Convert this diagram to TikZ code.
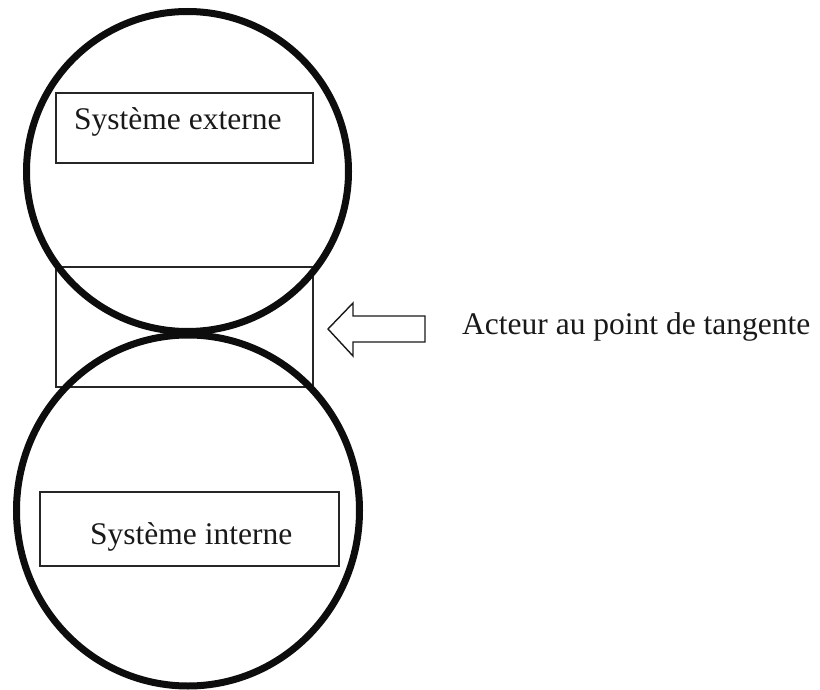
\documentclass[tikz,border=0pt]{standalone}
\usepackage{fontspec}
\setmainfont{Liberation Serif}
\usetikzlibrary{shapes.geometric}
\begin{document}
\begin{tikzpicture}[x=1pt,y=-1pt,
  system/.style={draw=black!95, line width=7pt, ellipse, inner sep=0pt},
  framebox/.style={draw=black!85, line width=1.4pt, rectangle, inner sep=0pt},
  label/.style={font=\fontsize{31.5}{36}\selectfont, inner sep=0pt, anchor=base west, text=black!90},
  hollowarrow/.style={draw=black!90, line width=1.4pt, line join=miter, fill=white}]
  \useasboundingbox (0,0) rectangle (820,690);

  % actor frame at the point of tangency
  \node[framebox, minimum width=257pt, minimum height=120pt] (acteur) at (184.5,327) {};

  % inner boxes with their labels
  \node[framebox, minimum width=257pt, minimum height=70pt] (extbox) at (184.5,128) {};
  \node[label] (extlabel) at (74,130) {Système externe};
  \node[framebox, minimum width=299pt, minimum height=74pt] (intbox) at (189.5,529) {};
  \node[label] (intlabel) at (90,544) {Système interne};

  % the two tangent systems, drawn over the frames
  \node[system, minimum width=322pt, minimum height=320pt] (ext) at (187.5,171.5) {};
  \node[system, minimum width=343pt, minimum height=351pt] (int) at (188,510.5) {};

  % hollow arrow pointing at the actor
  \coordinate (tip) at (328,329);
  \draw[hollowarrow] (tip) -- (353,303) -- (353,316) -- (425,316) -- (425,342)
    -- (353,342) -- (353,356) -- cycle;
  \node[label] (acteurlabel) at (462,334) {Acteur au point de tangente};
\end{tikzpicture}
\end{document}
